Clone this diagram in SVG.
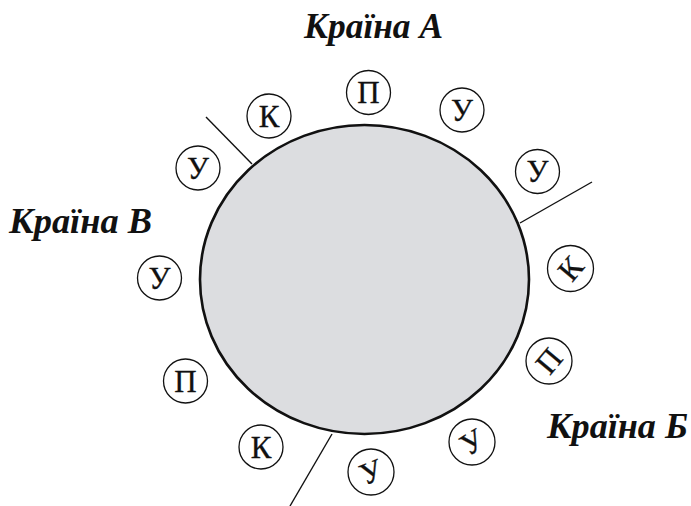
<svg xmlns="http://www.w3.org/2000/svg" width="691" height="506" viewBox="0 0 691 506">
<style>
.lbl{font-family:"Liberation Serif","Times New Roman",serif;font-weight:bold;font-style:italic;font-size:35px;fill:#111}
.m circle{fill:#fff;stroke:#111;stroke-width:1.3}
.m text{font-family:"Liberation Serif","Times New Roman",serif;font-size:31px;fill:#111;stroke:#111;stroke-width:0.3;text-anchor:middle}
.ln{stroke:#111;stroke-width:1.4;fill:none}
</style>
<rect width="691" height="506" fill="#fff"/>
<g id="world">
<ellipse cx="364.5" cy="279.5" rx="164.5" ry="154.5" fill="#dcdde0" stroke="#111" stroke-width="2.6"/>
</g>
<g id="connectors">
<line class="ln" x1="206" y1="117" x2="252" y2="164"/>
<line class="ln" x1="592" y1="182" x2="520" y2="223"/>
<line class="ln" x1="332" y1="434" x2="290" y2="506"/>
</g>
<g id="labels">
<text id="countryA" class="lbl" x="304" y="38" textLength="139" lengthAdjust="spacingAndGlyphs">Країна А</text>
<text id="countryV" class="lbl" x="9" y="233" textLength="143" lengthAdjust="spacingAndGlyphs">Країна В</text>
<text id="countryB" class="lbl" x="547" y="438" textLength="141" lengthAdjust="spacingAndGlyphs">Країна Б</text>
</g>
<g id="n1" class="m" transform="translate(368.5,92.5)"><circle r="22"/><text y="10.5">П</text></g>
<g id="n2" class="m" transform="translate(269,116)"><circle r="22"/><text y="10.5">К</text></g>
<g id="n3" class="m" transform="translate(462,110)"><circle r="22"/><text y="10.5">У</text></g>
<g id="n4" class="m" transform="translate(537.5,171.5)"><circle r="22"/><text y="10.5">У</text></g>
<g id="n5" class="m" transform="translate(198,168)"><circle r="22"/><text y="10.5">У</text></g>
<g id="n6" class="m" transform="translate(159.5,278)"><circle r="22"/><text y="10.5">У</text></g>
<g id="n7" class="m" transform="translate(185.5,381)"><circle r="22"/><text y="10.5">П</text></g>
<g id="n8" class="m" transform="translate(261,447)"><circle r="22"/><text y="10.5">К</text></g>
<g id="n9" class="m" transform="translate(371,472)"><circle r="23"/><text y="10.5" transform="rotate(-22)">У</text></g>
<g id="n10" class="m" transform="translate(472,442)"><circle r="23"/><text y="10.5" transform="rotate(-32)">У</text></g>
<g id="n11" class="m" transform="translate(549,361)"><circle r="23"/><text y="10.5" transform="rotate(-50)">П</text></g>
<g id="n12" class="m" transform="translate(570.5,268.5)"><circle r="23"/><text y="10.5" transform="rotate(-50)">К</text></g>
</svg>
